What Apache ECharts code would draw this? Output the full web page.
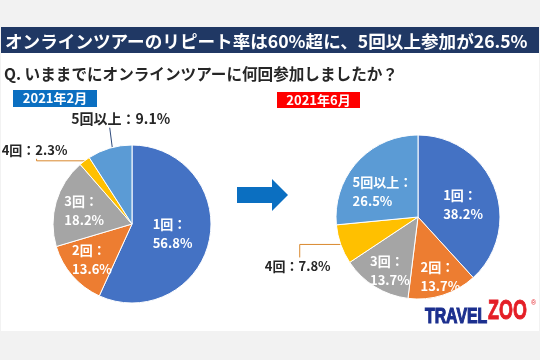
<!DOCTYPE html>
<html><head><meta charset="utf-8">
<script src="https://cdn.jsdelivr.net/npm/echarts@6/dist/echarts.min.js"></script>
<style>html,body{margin:0;padding:0;background:#f2f2f2}#c{width:540px;height:360px}</style>
</head><body><div id="c"></div>
<script>
const categories = ['1回', '2回', '3回', '4回', '5回以上'];
const febValues = [56.8, 13.6, 18.2, 2.3, 9.1];
const junValues = [38.2, 13.7, 13.7, 7.8, 26.5];
const periodLabels = ['2021年2月', '2021年6月'];
const titleText = 'オンラインツアーのリピート率は60%超に、5回以上参加が26.5%';
const questionText = 'Q. いままでにオンラインツアーに何回参加しましたか？';
const logoParts = ['TRAVEL', 'ZOO'];

const colors = ['#4472C4', '#ED7D31', '#A5A5A5', '#FFC000', '#5B9BD5'];
const FONT = '"Noto Sans CJK JP", "Noto Sans", sans-serif';

function makeSeries(values, center, radius, tweaks, outsideCfg) {
  return {
    type: 'pie', center: center, radius: radius, startAngle: 90, clockwise: true,
    animation: false, avoidLabelOverlap: false, silent: true,
    itemStyle: { borderColor: '#ffffff', borderWidth: 1 },
    label: { show: true, position: 'inside', formatter: '{b}：\n{c}%', color: '#ffffff',
      fontWeight: 'bold', fontSize: 13, lineHeight: 19, fontFamily: FONT },
    labelLine: { show: false },
    data: values.map(function (v, i) {
      const d = { name: categories[i], value: v, itemStyle: { color: colors[i] } };
      const o = outsideCfg[i];
      if (o) {
        d.label = { position: 'outside', formatter: '{b}：{c}%', color: '#262626',
          fontSize: o.fs, lineHeight: o.fs + 3, fontWeight: 'bold' };
        d.labelLine = { show: true, length: 4, length2: 4, lineStyle: { color: o.color, width: 1 } };
      }
      return d;
    }),
    labelLayout: function (p) {
      const i = p.dataIndex;
      const o = outsideCfg[i];
      const r = p.labelRect;
      if (o) {
        const p0 = p.labelLinePoints[0];
        const cx = p0[0] + o.dx, cy = p0[1] + o.dy;
        const h = r.height;
        let pts;
        if (o.kind === 'up') {
          pts = [[p0[0], p0[1]], [cx + 2, p0[1]], [cx + 2, cy + h / 2 + 1]];
        } else if (o.kind === 'down') {
          pts = [[p0[0], p0[1]], [cx + 2, p0[1]], [cx + 2, cy - h / 2 - 1]];
        } else {
          const inner = [p0[0] + (center[0] - p0[0]) * 0.21, p0[1] + (center[1] - p0[1]) * 0.21];
          pts = [inner, [p0[0], cy + h / 2 + 1]];
        }
        return { x: cx, y: cy, align: 'center', verticalAlign: 'middle', labelLinePoints: pts };
      }
      const t = tweaks[i] || [0, 0];
      return { x: r.x + t[0], y: r.y + r.height / 2 + t[1], align: 'left', verticalAlign: 'middle' };
    }
  };
}

const chart = echarts.init(document.getElementById('c'), null, { renderer: 'canvas' });
chart.setOption({
  backgroundColor: '#f2f2f2',
  graphic: [
    { type: 'rect', shape: { x: 1, y: 27, width: 538, height: 304 }, style: { fill: '#ffffff' }, z: -10 },
    { type: 'rect', shape: { x: 1, y: 27, width: 538, height: 26 }, style: { fill: '#203864' }, z: -5 },
    { type: 'text', x: 5, y: 41, style: { text: titleText, fill: '#ffffff', font: 'bold 17.6px ' + FONT, verticalAlign: 'middle' } },
    { type: 'text', x: 4, y: 74, style: { text: questionText, fill: '#262626', font: 'bold 15.6px ' + FONT, verticalAlign: 'middle' } },
    { type: 'rect', shape: { x: 13, y: 90, width: 84, height: 17 }, style: { fill: '#0B6FC1' } },
    { type: 'text', x: 55, y: 98.5, style: { text: periodLabels[0], fill: '#ffffff', font: 'bold 13px ' + FONT, align: 'center', verticalAlign: 'middle' } },
    { type: 'rect', shape: { x: 277, y: 92, width: 83, height: 16 }, style: { fill: '#FF0000' } },
    { type: 'text', x: 318.5, y: 100, style: { text: periodLabels[1], fill: '#ffffff', font: 'bold 13px ' + FONT, align: 'center', verticalAlign: 'middle' } },
    { type: 'polygon', shape: { points: [[237, 187], [272, 187], [272, 179], [288, 195], [272, 211], [272, 203], [237, 203]] }, style: { fill: '#0B6FC1' } },
    { type: 'text', x: 425, y: 316.5, scaleX: 0.72, style: { text: logoParts[0], fill: '#1B2F8E', stroke: '#1B2F8E', lineWidth: 1.2, font: 'bold 22px "Liberation Sans", sans-serif', verticalAlign: 'middle' } },
    { type: 'text', x: 488, y: 311.5, scaleX: 0.64, style: { text: logoParts[1], fill: '#E41E26', stroke: '#E41E26', lineWidth: 1, font: 'bold 28px "Liberation Sans", sans-serif', verticalAlign: 'middle' } },
    { type: 'text', x: 531, y: 303, style: { text: '®', fill: '#E41E26', font: '7px sans-serif', verticalAlign: 'middle' } }
  ],
  series: [
    makeSeries(febValues, [132, 224], 79,
      { 0: [-1, 1], 1: [-8, 8], 2: [-7, -2] },
      { 3: { kind: 'up', dx: -50, dy: -11, fs: 13, color: '#D9882E' },
        4: { kind: 'diag', dx: 11, dy: -30, fs: 14, color: '#2F4B7C' } }),
    makeSeries(junValues, [418, 217], 82,
      { 0: [4, 3], 1: [9, 18], 2: [-5, 16], 4: [-3, 4] },
      { 3: { kind: 'down', dx: -43, dy: 22, fs: 13, color: '#D9882E' } })
  ]
});
</script>
</body></html>
